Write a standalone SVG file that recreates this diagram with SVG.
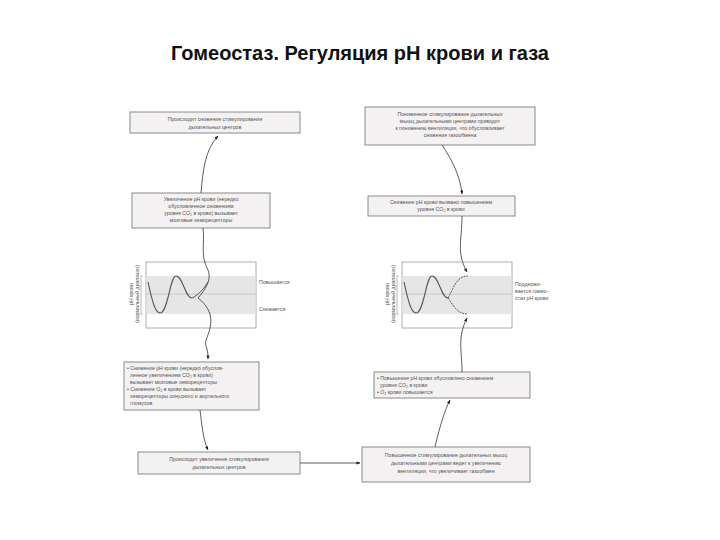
<svg xmlns="http://www.w3.org/2000/svg" width="720" height="540" viewBox="0 0 720 540">
<style>
.t{font-family:"Liberation Sans",Arial,sans-serif;font-size:5.2px;fill:#555;text-anchor:middle}
.l{text-anchor:start}
.box{fill:#f3f1f1;stroke:#8a8a8a;stroke-width:1}
.g{fill:#fff;stroke:#999;stroke-width:0.8}
.c{fill:none;stroke:#333;stroke-width:0.8}
.w{fill:none;stroke:#555;stroke-width:1.1}
</style>
<defs><marker id="a" viewBox="0 0 10 10" refX="9" refY="5" markerWidth="5" markerHeight="5" orient="auto"><path d="M0,1L10,5L0,9z" fill="#222"/></marker></defs>
<rect width="720" height="540" fill="#fff"/>
<text x="360" y="60" style="font-family:'Liberation Sans',Arial,sans-serif;font-size:20px;font-weight:bold;text-anchor:middle" fill="#111">Гомеостаз. Регуляция pH крови и газа</text>

<g id="n1"><rect class="box" x="130" y="112" width="170" height="21"/><text class="t" x="215" y="121">Происходит снижение стимулирования</text><text class="t" x="215" y="129">дыхательных центров</text></g>
<g id="n2"><rect class="box" x="132" y="193" width="138" height="35"/><text class="t" x="201" y="201">Увеличение pH крови (нередко</text><text class="t" x="201" y="208">обусловленное снижением</text><text class="t" x="201" y="215">уровня CO₂ в крови) вызывает</text><text class="t" x="201" y="222">мозговые хеморецепторы</text></g>
<g id="g1"><rect class="g" x="146" y="262" width="110" height="66"/><rect x="146.5" y="276" width="109" height="38" fill="#e6e6e6"/><line x1="146" y1="294" x2="256" y2="294" stroke="#aaa" stroke-width="0.5"/>
<path d="M143,276 H141 V314 H143" fill="none" stroke="#777" stroke-width="0.5"/>
<text class="t" transform="translate(133,294) rotate(-90)">pH крови</text><text class="t" transform="translate(139,294) rotate(-90)">(нормальный диапазон)</text>
<path class="w" d="M148,282 C152,300 155,313 160,313 C168,313 170,276 176,276 C183,276 185,298 192,298"/>
<text class="t l" x="259" y="284">Повышается</text><text class="t l" x="259" y="311">Снижается</text></g>
<g id="n3"><rect class="box" x="124" y="362" width="135" height="48"/>
<text class="t l" x="127" y="370">• Снижение pH крови (нередко обуслов-</text><text class="t l" x="130" y="377">ленное увеличением CO₂ в крови)</text><text class="t l" x="130" y="384">вызывает мозговые хеморецепторы</text><text class="t l" x="127" y="391">• Снижение O₂ в крови вызывает</text><text class="t l" x="130" y="398">хеморецепторы синусного и аортального</text><text class="t l" x="130" y="405">гломусов</text></g>
<g id="n4"><rect class="box" x="138" y="452" width="162" height="22"/><text class="t" x="219" y="461">Происходит увеличение стимулирования</text><text class="t" x="219" y="469">дыхательных центров</text></g>

<g id="n5"><rect class="box" x="365" y="107" width="170" height="38"/><text class="t" x="450" y="116">Пониженное стимулирование дыхательных</text><text class="t" x="450" y="123">мышц дыхательными центрами приводит</text><text class="t" x="450" y="130">к понижению вентиляции, что обусловливает</text><text class="t" x="450" y="137">снижение газообмена</text></g>
<g id="n6"><rect class="box" x="368" y="196" width="147" height="20"/><text class="t" x="441" y="204">Снижение pH крови вызвано повышением</text><text class="t" x="441" y="211">уровня CO₂ в крови</text></g>
<g id="g2"><rect class="g" x="402" y="262" width="110" height="66"/><rect x="402.5" y="276" width="109" height="38" fill="#e6e6e6"/><line x1="402" y1="294" x2="512" y2="294" stroke="#aaa" stroke-width="0.5"/>
<path d="M399,276 H397 V314 H399" fill="none" stroke="#777" stroke-width="0.5"/>
<text class="t" transform="translate(389,294) rotate(-90)">pH крови</text><text class="t" transform="translate(395,294) rotate(-90)">(нормальный диапазон)</text>
<path class="w" d="M404,282 C408,300 411,313 416,313 C424,313 426,276 432,276 C439,276 441,298 448,298"/>
<text class="t l" x="515" y="286">Поддержи-</text><text class="t l" x="515" y="293">вается гомео-</text><text class="t l" x="515" y="300">стаз pH крови</text></g>
<g id="n7"><rect class="box" x="374" y="372" width="156" height="26"/><text class="t l" x="377" y="380">• Повышение pH крови обусловлено снижением</text><text class="t l" x="380" y="387">уровня CO₂ в крови</text><text class="t l" x="377" y="394">• O₂ крови повышается</text></g>
<g id="n8"><rect class="box" x="362" y="447" width="168" height="35"/><text class="t" x="446" y="457">Повышенное стимулирование дыхательных мышц</text><text class="t" x="446" y="465">дыхательными центрами ведет к увеличению</text><text class="t" x="446" y="473">вентиляции, что увеличивает газообмен</text></g>

<g id="connectors">
<path class="c" marker-end="url(#a)" d="M201,193 C203,170 205,150 218,136"/>
<path class="c" d="M203,228 C205,245 200,255 208,270 C212,280 205,290 198,298"/>
<path class="c" d="M192,298 C200,294 204,288 208,282 M198,298 C203,302 207,306 210,314 C214,330 203,340 206,346 C208,352 208,355 208,359" marker-end="url(#a)"/>
<path class="c" marker-end="url(#a)" d="M200,410 C202,425 203,440 208,450"/>
<path class="c" marker-end="url(#a)" d="M300,463 H360"/>
<path class="c" marker-end="url(#a)" d="M435,447 C440,425 445,410 450,400"/>
<path class="c" marker-end="url(#a)" d="M442,145 C452,160 460,175 462,194"/>
<path class="c" marker-end="url(#a)" d="M462,216 C462,240 456,252 467,272"/>
<path class="c" marker-end="url(#a)" d="M462,372 C462,350 457,338 467,318"/>
<path class="c" stroke-dasharray="2,1" d="M448,298 C454,288 456,276 468,276 M448,298 C454,306 457,314 468,314"/>
</g>
</svg>
